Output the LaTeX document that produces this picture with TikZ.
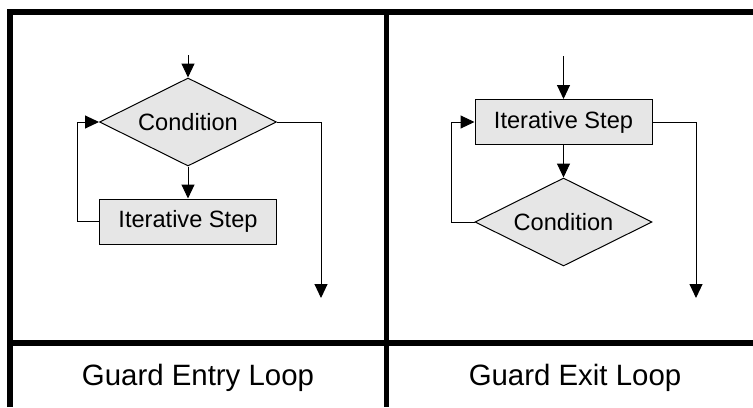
\documentclass[tikz,border=0pt]{standalone}
\usepackage{fontspec}
\setmainfont{Liberation Sans}
\usetikzlibrary{shapes.geometric,arrows.meta}
\definecolor{boxgray}{HTML}{E6E6E6}
\tikzset{
  cond/.style={diamond,draw,fill=boxgray,aspect=2,inner sep=0pt,
    minimum width=88.5pt,minimum height=44pt,font=\fontsize{11.8}{14}\selectfont},
  stepbox/.style={rectangle,draw,fill=boxgray,inner sep=0pt,
    minimum width=88.5pt,minimum height=22.5pt,font=\fontsize{11.8}{14}\selectfont},
  flow/.style={-{Triangle[length=7pt,width=6.5pt]}},
  frame/.style={line width=2.6pt},
  caption/.style={font=\fontsize{14.7}{17}\selectfont}
}
\begin{document}
\begin{tikzpicture}[x=0.5pt,y=-0.5pt]
\pgfsetlinewidth{.5pt}
\useasboundingbox (0,0) rectangle (753,407);
%
% marco
\draw[frame] (10,407) -- (10,12) -- (753,12);
\draw[frame] (386.5,12) -- (386.5,407);
\draw[frame] (10,343) -- (753,343);
%
% guard entry loop
\node[cond] (cond1) at (188,122) {Condition};
\node[stepbox] (step1) at (188,221.5) {Iterative Step};
\coordinate (in1) at (188,55);
\coordinate (out1) at (321,298);
\draw[flow] (in1) -- (cond1);
\draw[flow] (cond1) -- (step1);
\draw[flow] (step1.west) -- ++(-22,0) |- (cond1.west);
\draw[flow] (cond1.east) -| (out1);
\node[caption] (title1) at (198,378) {Guard Entry Loop};
%
% guard exit loop
\node[stepbox] (step2) at (563.5,122) {Iterative Step};
\node[cond] (cond2) at (563.5,222) {Condition};
\coordinate (in2) at (563.5,56);
\coordinate (out2) at (696,298);
\draw[flow] (in2) -- (step2);
\draw[flow] (step2) -- (cond2);
\draw[flow] (cond2.west) -- ++(-23,0) |- (step2.west);
\draw[flow] (step2.east) -| (out2);
\node[caption] (title2) at (575,378) {Guard Exit Loop};
\end{tikzpicture}
\end{document}
